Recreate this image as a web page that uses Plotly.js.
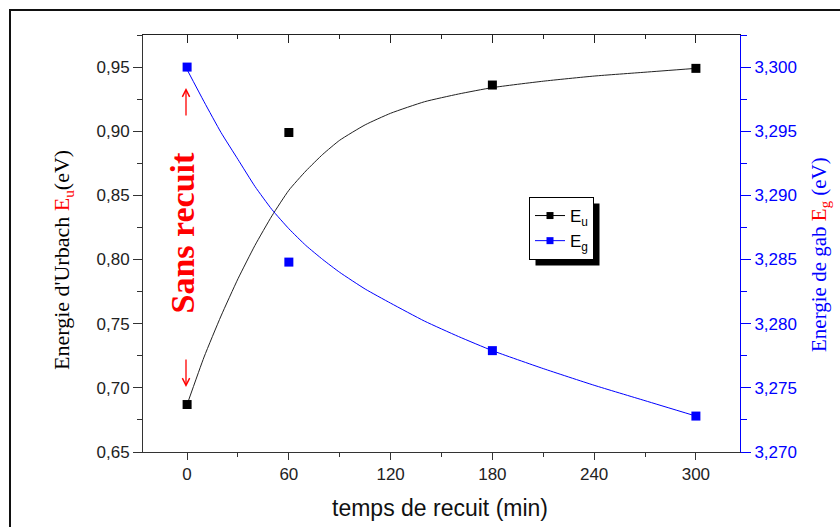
<!DOCTYPE html>
<html>
<head>
<meta charset="utf-8">
<script src="https://cdn.plot.ly/plotly-3.0.1.min.js"></script>
<style>
html,body{margin:0;padding:0;background:#fff;}
#chart{width:840px;height:527px;}
</style>
</head>
<body>
<div id="chart"></div>
<script>
// ---- data ----
const timeMin = [0, 60, 180, 300];
const euVals = [0.687, 0.899, 0.936, 0.949];
const egVals = [3.300, 3.2848, 3.2779, 3.2728];

// fitted curves
const euFitX = [0, 10, 20, 30, 40, 50, 60, 70, 80, 90, 105, 120, 140, 160, 180, 210, 240, 270, 300];
const euFitY = [0.687, 0.724, 0.756, 0.785, 0.811, 0.834, 0.854, 0.869, 0.882, 0.893, 0.905, 0.914, 0.923, 0.929, 0.934, 0.939, 0.943, 0.946, 0.949];
const egFitX = [0, 10, 20, 30, 40, 50, 60, 70, 80, 90, 105, 120, 140, 160, 180, 210, 240, 270, 300];
const egFitY = [3.2998, 3.2973, 3.2949, 3.2928, 3.2907, 3.2889, 3.2874, 3.2861, 3.2850, 3.2840, 3.2827, 3.2816, 3.2802, 3.2790, 3.2779, 3.2765, 3.2752, 3.2740, 3.2728];

const xTickVals = [0, 60, 120, 180, 240, 300];
const legendNames = ['E<sub>u</sub>', 'E<sub>g</sub>'];

// ---- layout geometry ----
const W = 840, H = 527;
const ml = 143, mr = 100, mt = 35, mb = 75;
const pw = W - ml - mr, ph = H - mt - mb;
const px = v => (v - ml) / pw;
const py = v => 1 - (v - mt) / ph;

const BLUE = '#0000ff';
const serif = '"Liberation Serif", "Times New Roman", serif';
const sans = '"Liberation Sans", Arial, sans-serif';

const traces = [
  {x: euFitX, y: euFitY, mode: 'lines', line: {color: '#222', width: 1, shape: 'spline', smoothing: 0.5},
   xaxis: 'x', yaxis: 'y', showlegend: false, hoverinfo: 'skip'},
  {x: egFitX, y: egFitY, mode: 'lines', line: {color: BLUE, width: 1, shape: 'spline', smoothing: 0.5},
   xaxis: 'x', yaxis: 'y2', showlegend: false, hoverinfo: 'skip'},
  {x: timeMin, y: euVals, mode: 'markers', marker: {symbol: 'square', size: 9, color: '#000'},
   xaxis: 'x', yaxis: 'y', showlegend: false},
  {x: timeMin, y: egVals, mode: 'markers', marker: {symbol: 'square', size: 9, color: BLUE},
   xaxis: 'x', yaxis: 'y2', showlegend: false},
  // legend entries
  {x: [null], y: [null], name: legendNames[0], mode: 'lines+markers',
   line: {color: '#000', width: 1}, marker: {symbol: 'square', size: 7, color: '#000'}, xaxis: 'x', yaxis: 'y'},
  {x: [null], y: [null], name: legendNames[1], mode: 'lines+markers',
   line: {color: BLUE, width: 1}, marker: {symbol: 'square', size: 7, color: BLUE}, xaxis: 'x', yaxis: 'y2'},
  // helper for top axis
  {x: [null], y: [null], xaxis: 'x2', yaxis: 'y', showlegend: false, hoverinfo: 'skip', mode: 'markers'}
];

const layout = {
  width: W, height: H,
  margin: {l: ml, r: mr, t: mt, b: mb, pad: 0},
  paper_bgcolor: '#fff', plot_bgcolor: '#fff',
  separators: ', ',
  showlegend: true,
  font: {family: sans, size: 17, color: '#222'},
  xaxis: {
    range: [-26, 326], tickvals: xTickVals, ticks: 'outside', ticklen: 7, tickwidth: 1, tickcolor: '#333',
    showline: true, linecolor: '#333', linewidth: 1, showgrid: false, zeroline: false,
    tickfont: {family: sans, size: 17, color: '#222'},
    minor: {dtick: 30, tick0: 0, ticks: 'outside', ticklen: 4, tickcolor: '#333', showgrid: false},
    anchor: 'y'
  },
  xaxis2: {
    range: [-26, 326], overlaying: 'x', side: 'top', anchor: 'y', tickvals: xTickVals,
    ticks: 'inside', ticklen: 8, tickcolor: '#222', showticklabels: false,
    showline: true, linecolor: '#222', linewidth: 1.5, showgrid: false, zeroline: false,
    minor: {dtick: 30, tick0: 0, ticks: 'inside', ticklen: 4, tickcolor: '#222', showgrid: false}
  },
  yaxis: {
    range: [0.65, 0.975], dtick: 0.05, tick0: 0.65, tickformat: '.2f',
    ticks: 'outside', ticklen: 9, tickcolor: '#333', showline: true, linecolor: '#333', linewidth: 1,
    showgrid: false, zeroline: false, tickfont: {family: sans, size: 17, color: '#222'},
    minor: {dtick: 0.025, tick0: 0.65, ticks: 'outside', ticklen: 5, tickcolor: '#333', showgrid: false}
  },
  yaxis2: {
    range: [3.27, 3.3025], dtick: 0.005, tick0: 3.27, tickformat: '.3f', overlaying: 'y', side: 'right', anchor: 'x',
    ticks: 'outside', ticklen: 10, tickcolor: BLUE, showline: true, linecolor: BLUE, linewidth: 1,
    showgrid: false, zeroline: false, tickfont: {family: sans, size: 17, color: BLUE},
    minor: {dtick: 0.0025, tick0: 3.27, ticks: 'outside', ticklen: 6, tickcolor: BLUE, showgrid: false}
  },
  legend: {
    x: px(529), y: py(197), xanchor: 'left', yanchor: 'top',
    bgcolor: '#fff', bordercolor: '#000', borderwidth: 1,
    font: {family: sans, size: 17, color: '#000'},
    itemwidth: 30, tracegroupgap: 0
  },
  shapes: [
    // outer frame
    {type: 'rect', xref: 'paper', yref: 'paper', x0: px(10), x1: px(860), y0: py(545), y1: py(10),
     line: {color: '#111', width: 2}, fillcolor: 'rgba(0,0,0,0)', layer: 'above'},
    // legend shadow (repositioned after render)
    {type: 'rect', xref: 'paper', yref: 'paper', x0: px(535), x1: px(606), y0: py(260), y1: py(203),
     line: {width: 0}, fillcolor: '#000', layer: 'above'}
  ],
  annotations: [
    {xref: 'paper', yref: 'paper', x: px(63), y: py(260), xanchor: 'center', yanchor: 'middle', textangle: -90,
     showarrow: false, font: {family: serif, size: 22, color: '#000'},
     text: "Energie d'Urbach <span style='color:#ff0000'>E<sub>u</sub></span>(eV)"},
    {xref: 'paper', yref: 'paper', x: px(820), y: py(255), xanchor: 'center', yanchor: 'middle', textangle: -90,
     showarrow: false, font: {family: serif, size: 21, color: BLUE},
     text: "Energie de gab <span style='color:#ff0000'>E<sub>g</sub></span> (eV)"},
    {xref: 'paper', yref: 'paper', x: px(440), y: py(508), xanchor: 'center', yanchor: 'middle',
     showarrow: false, font: {family: sans, size: 23, color: '#111'}, text: 'temps de recuit (min)'},
    {xref: 'paper', yref: 'paper', x: px(182.5), y: py(233), xanchor: 'center', yanchor: 'middle', textangle: -90,
     showarrow: false, font: {family: serif, size: 34, color: '#ff0000', weight: 'bold'}, text: '<b>Sans recuit</b>'},
    // arrows
    {xref: 'paper', yref: 'paper', x: px(186), y: py(88), ax: 0, ay: 29, text: '', showarrow: true,
     arrowhead: 5, arrowsize: 1.1, arrowwidth: 1.3, arrowcolor: '#ff0000'},
    {xref: 'paper', yref: 'paper', x: px(186), y: py(387), ax: 0, ay: -29, text: '', showarrow: true,
     arrowhead: 5, arrowsize: 1.1, arrowwidth: 1.3, arrowcolor: '#ff0000'}
  ]
};

const gd = document.getElementById('chart');
Plotly.newPlot(gd, traces, layout, {displayModeBar: false, staticPlot: true}).then(() => {
  const bg = gd.querySelector('.legend rect.bg');
  if (!bg) return;
  const r = bg.getBoundingClientRect();
  const c = gd.getBoundingClientRect();
  const L = r.left - c.left, T = r.top - c.top, R = r.right - c.left, B = r.bottom - c.top;
  const off = 6;
  return Plotly.relayout(gd, {
    'shapes[1].x0': px(L + off), 'shapes[1].x1': px(R + off),
    'shapes[1].y0': py(B + off), 'shapes[1].y1': py(T + off)
  });
});
</script>
</body>
</html>
